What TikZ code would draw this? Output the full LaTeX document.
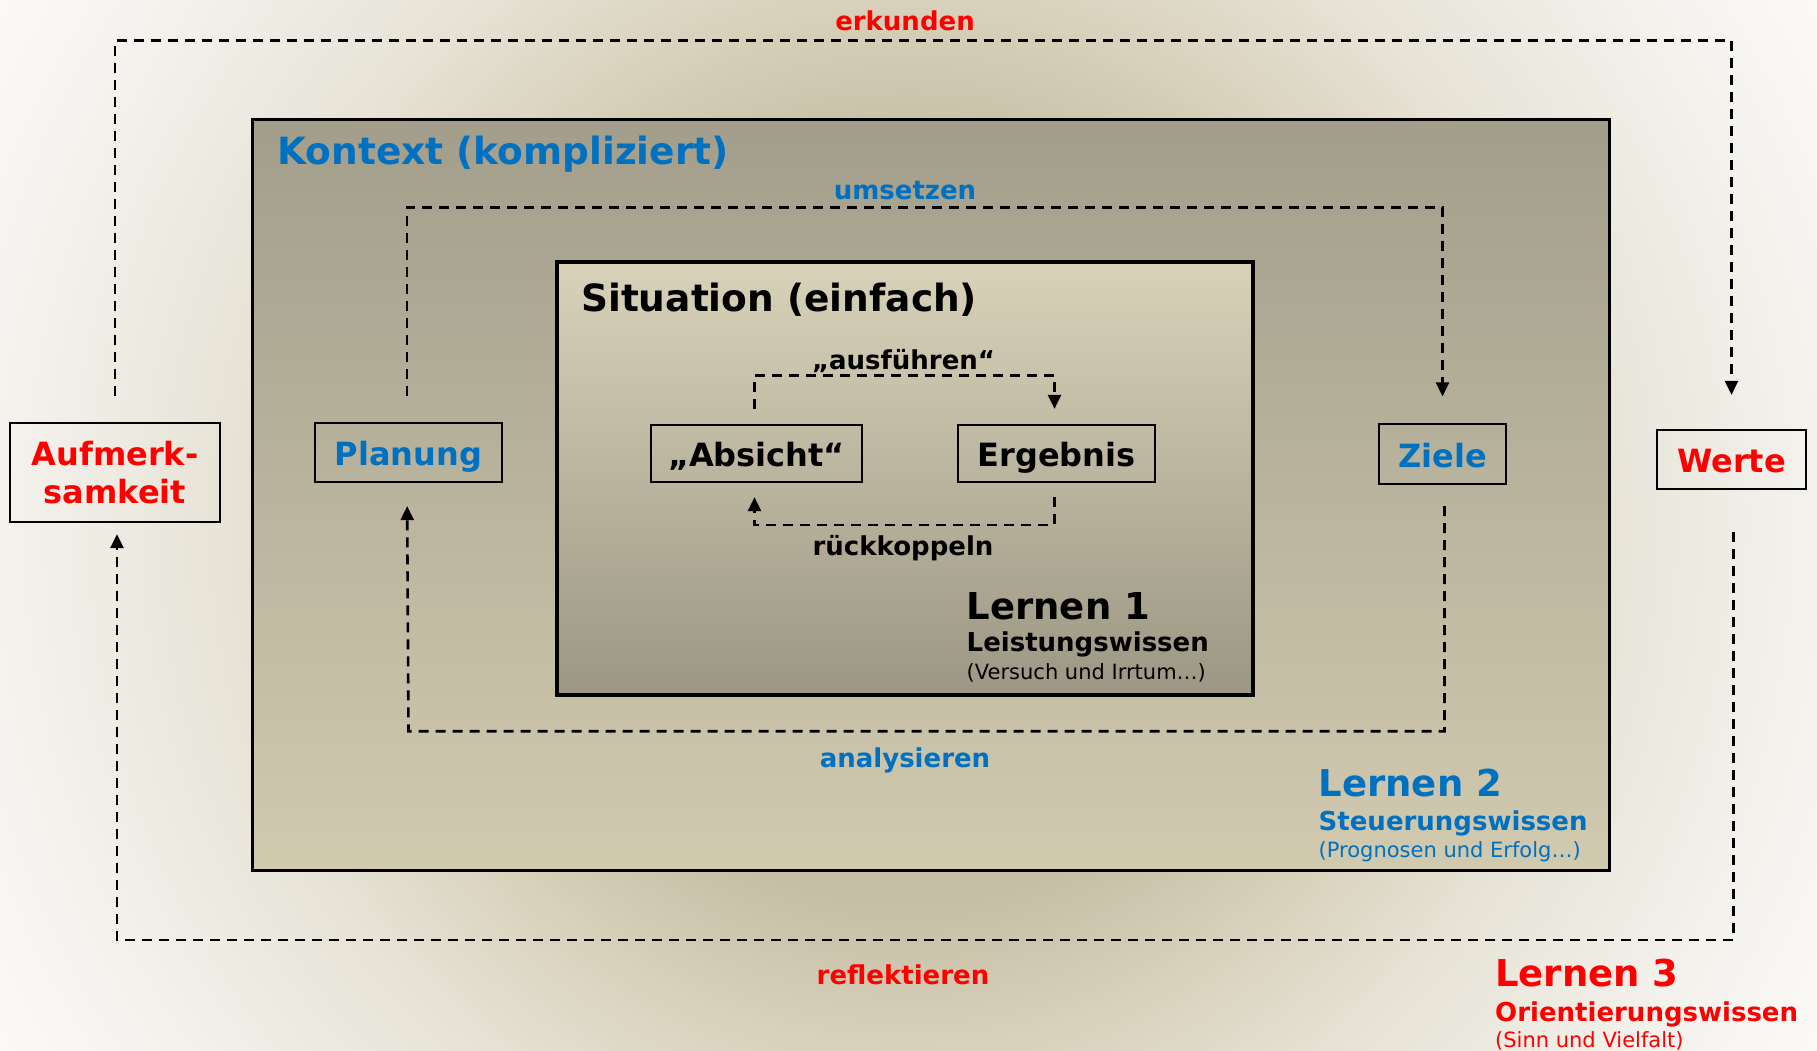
\documentclass[tikz,border=0pt]{standalone}
\usepackage{fontspec}
\setmainfont{DejaVu Sans}
\usetikzlibrary{arrows.meta}

\definecolor{kblue}{HTML}{0070C0}
\definecolor{kred}{HTML}{FF0000}
\definecolor{bgcA}{HTML}{BFB699}
\definecolor{bgcB}{HTML}{C6BEA5}
\definecolor{bgcC}{HTML}{D6CFB8}
\definecolor{bgcD}{HTML}{E6E2D5}
\definecolor{bgcE}{HTML}{F4F2ED}
\definecolor{bgcF}{HTML}{FBFAF8}
\definecolor{kontextTop}{HTML}{A29E8B}
\definecolor{kontextBot}{HTML}{D1CAAF}
\definecolor{situTop}{HTML}{D8D2B9}
\definecolor{situBot}{HTML}{9C9784}

% soft glow behind the whole diagram (25bp = radius of the shaded circle)
\pgfdeclareradialshading{bgglow}{\pgfpoint{0bp}{0bp}}{%
  color(0bp)=(bgcA); color(9bp)=(bgcB); color(12bp)=(bgcC);
  color(16bp)=(bgcD); color(21.5bp)=(bgcE); color(25bp)=(bgcF);
  color(50bp)=(bgcF)}

\begin{document}
\begin{tikzpicture}[x=1pt,y=-1pt,
  ttl/.style={font=\fontsize{37.5}{44}\selectfont\bfseries, inner sep=0pt},
  lern/.style={font=\fontsize{37}{44}\selectfont\bfseries, inner sep=0pt, anchor=base west},
  lernsub/.style={font=\fontsize{26}{31}\selectfont\bfseries, inner sep=0pt, anchor=base west},
  lernnote/.style={font=\fontsize{21}{25}\selectfont, inner sep=0pt, anchor=base west},
  lbl/.style={font=\fontsize{26}{31}\selectfont\bfseries, inner sep=0pt, anchor=base},
  box/.style={draw=black, line width=2.2pt, inner sep=0pt,
    font=\fontsize{32}{38.5}\selectfont\bfseries},
  onebox/.style={box, text height=26pt, text depth=0pt},
  frame/.style={draw=black, line width=3.5pt, inner sep=0pt},
  dl/.style={draw=black, line width=2.6pt, dash pattern=on 10pt off 7pt,
    -{Triangle[length=14pt,width=13pt]}}]

\useasboundingbox (0,0) rectangle (1817,1051);

% background
\begin{scope}
  \clip (0,0) rectangle (1817,1051);
  \shade[shading=bgglow] (908,525) circle (1050pt);
\end{scope}

% nested frames
\node[frame, top color=kontextTop, bottom color=kontextBot,
  minimum width=1357pt, minimum height=751pt] (kontext) at (931.1,494.85) {};
\node[frame, top color=situTop, bottom color=situBot,
  minimum width=696pt, minimum height=433pt] (situation) at (905,478.5) {};

\node[ttl, anchor=base west, text=kblue] (kontextlbl) at (277,165) {Kontext (kompliziert)};
\node[ttl, anchor=base west] (situationlbl) at (581,311) {Situation (einfach)};

% boxes
\node[box, text=kred, align=center, minimum width=210pt, minimum height=99pt]
  (aufm) at (115,472.5) {Aufmerk-\\samkeit};
\node[onebox, text=kblue, minimum width=187pt, minimum height=59pt]
  (plan) at (408.5,452.5) {Planung};
\node[onebox, text=kblue, minimum width=127pt, minimum height=60pt]
  (ziele) at (1442.5,454) {Ziele};
\node[onebox, text=kred, minimum width=149pt, minimum height=59pt]
  (werte) at (1731.5,459.5) {Werte};
\node[onebox, minimum width=211pt, minimum height=57pt]
  (absicht) at (756.5,453.5) {„Absicht“};
\node[onebox, minimum width=197pt, minimum height=57pt]
  (ergebnis) at (1056.5,453.5) {Ergebnis};

% corner points of the loops
\coordinate (ctop) at (1731.5,40.6);
\coordinate (cbot) at (117,939.8);
\coordinate (cum) at (1442.5,207.4);
\coordinate (cana) at (408.5,731.2);
\coordinate (caus) at (1054.5,375.4);
\coordinate (crueck) at (754.5,525);

% loops
\draw[dl, shorten <=26pt, shorten >=34pt] (aufm.north) |- (ctop) -- (werte.north);
\draw[dl, shorten <=42pt, shorten >=11pt] ([xshift=2pt]werte.south) |- (cbot) -- ([xshift=2pt]aufm.south);
\draw[dl, shorten <=25.5pt, shorten >=26.5pt] ([xshift=-1.5pt]plan.north) |- (cum) -- (ziele.north);
\draw[dl, shorten <=21pt, shorten >=23pt] ([xshift=2pt]ziele.south) |- (cana) -- ([xshift=-1.5pt]plan.south);
\draw[dl, shorten <=15pt, shorten >=15pt] ([xshift=-2pt]absicht.north) |- (caus) -- ([xshift=-2pt]ergebnis.north);
\draw[dl, shorten <=14pt, shorten >=14pt] ([xshift=-2pt]ergebnis.south) |- (crueck) -- ([xshift=-2pt]absicht.south);

% loop labels
\node[lbl, text=kred] (erkunden) at (905,30.7) {erkunden};
\node[lbl, text=kred] (reflektieren) at (903,984.3) {reflektieren};
\node[lbl, text=kblue] (umsetzen) at (905,200) {umsetzen};
\node[lbl, text=kblue] (analysieren) at (905,767) {analysieren};
\node[lbl] (ausfuehren) at (903.5,369.3) {„ausführen“};
\node[lbl] (rueckkoppeln) at (903,555) {rückkoppeln};

% learning levels
\node[lern] (l1) at (966.5,619) {Lernen 1};
\node[lernsub] (l1a) at (966.5,651.7) {Leistungswissen};
\node[lernnote] (l1b) at (966.5,679) {(Versuch und Irrtum…)};

\node[lern, text=kblue] (l2) at (1318.5,796.7) {Lernen 2};
\node[lernsub, text=kblue] (l2a) at (1318.5,830) {Steuerungswissen};
\node[lernnote, text=kblue] (l2b) at (1318.5,857) {(Prognosen und Erfolg…)};

\node[lern, text=kred] (l3) at (1495,986.7) {Lernen 3};
\node[lernsub, text=kred] (l3a) at (1495,1021) {Orientierungswissen};
\node[lernnote, text=kred] (l3b) at (1495,1047.3) {(Sinn und Vielfalt)};

\end{tikzpicture}
\end{document}
